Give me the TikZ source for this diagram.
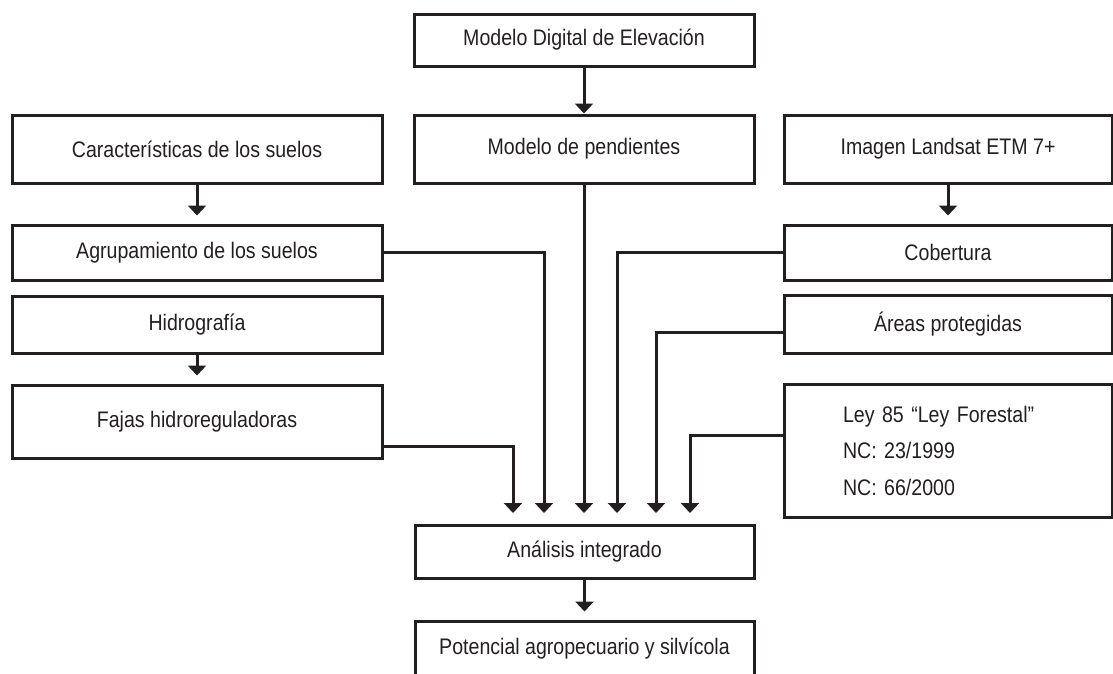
\documentclass[tikz,border=0pt]{standalone}
\usepackage{fontspec}
\setmainfont{Liberation Sans}[FakeStretch=0.87]
\usetikzlibrary{arrows.meta}
\definecolor{tinta}{RGB}{35,31,32}

\begin{document}
\begin{tikzpicture}[x=1pt, y=-1pt,
  caja/.style={draw=tinta, line width=3pt, text=tinta, inner sep=0pt,
    font=\fontsize{22.5}{26}\selectfont},
  izq/.style={caja, minimum width=370pt},
  centro/.style={caja, minimum width=340pt},
  der/.style={caja, minimum width=328pt},
  flecha/.style={draw=tinta, line width=3pt, -{Triangle[width=18pt,length=10pt]}}]
  \useasboundingbox (0,0) rectangle (1113,673);

  % Central column
  \node[centro, minimum height=52pt] (mde) at (584,40) {Modelo Digital de Elevación};
  \node[centro, minimum height=68pt] (pend) at (584,149) {Modelo de pendientes};

  % Left column
  \node[izq, minimum height=68pt] (carac) at (197,149) {Características de los suelos};
  \node[izq, minimum height=55pt] (agrup) at (197,252.5) {Agrupamiento de los suelos};
  \node[izq, minimum height=57pt] (hidro) at (197,324.5) {Hidrografía};
  \node[izq, minimum height=73pt] (fajas) at (197,421.5) {Fajas hidroreguladoras};

  % Right column
  \node[der, minimum height=68pt] (landsat) at (948,149) {Imagen Landsat ETM 7+};
  \node[der, minimum height=55pt] (cober) at (948,252.5) {Cobertura};
  \node[der, minimum height=58pt] (areas) at (948,324) {Áreas protegidas};
  \node[der, minimum height=133pt, text width=210pt, align=left,
    font=\fontsize{22.5}{36.5}\selectfont] (ley) at (948,450.5)
    {Ley 85 “Ley Forestal”\\NC: 23/1999\\NC: 66/2000};

  % Bottom
  \node[centro, minimum width=339pt, minimum height=53pt] (anal) at (584.5,551.5) {Análisis integrado};
  \node[centro, minimum width=339pt, minimum height=56pt] (pot) at (584.5,649)
    {\raisebox{4pt}{Potencial agropecuario y silvícola}};

  % Arrow ends above the integrated analysis
  \coordinate (e1) at (513,513);
  \coordinate (e2) at (544,513);
  \coordinate (e3) at (584,513);
  \coordinate (e4) at (617,513);
  \coordinate (e5) at (656,513);
  \coordinate (e6) at (690,513);

  % Straight arrows
  \draw[flecha] (mde.south) -- (pend.north);
  \foreach \a/\b in {carac/agrup, hidro/fajas, landsat/cober, anal/pot}
    \draw[flecha, shorten >=8pt] (\a.south) -- (\b.north);

  % Converging connectors
  \draw[flecha] (pend.south) -- (e3);
  \foreach \src/\anc/\dy/\e in {fajas/east/-24.5/e1, agrup/east/0/e2,
      cober/west/0/e4, areas/west/-8/e5, ley/west/15.5/e6}
    \draw[flecha] ([yshift=\dy pt]\src.\anc) -| (\e);
\end{tikzpicture}
\end{document}
